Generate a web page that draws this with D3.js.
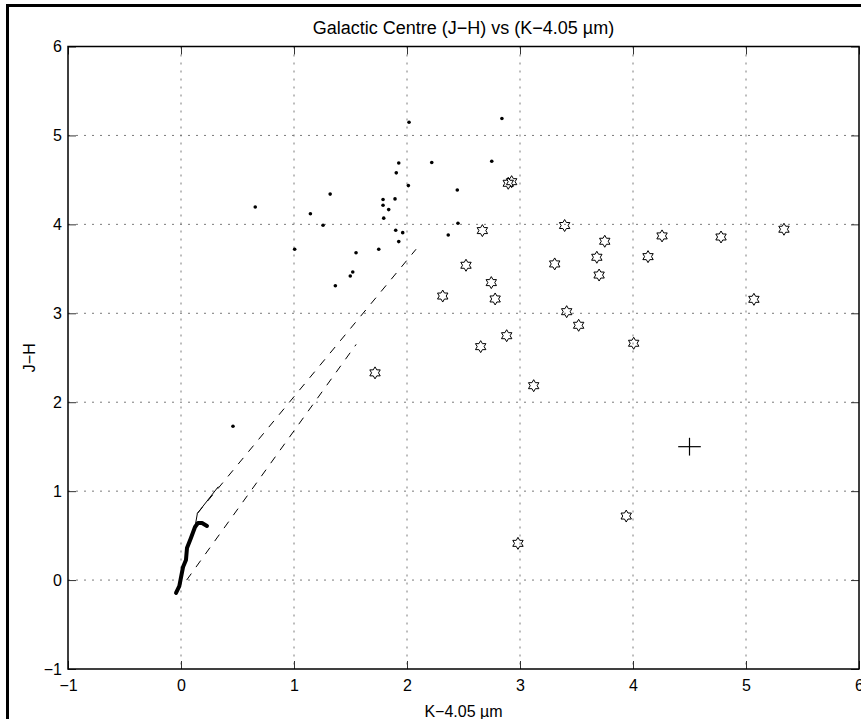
<!DOCTYPE html>
<html>
<head>
<meta charset="utf-8">
<script src="https://cdn.jsdelivr.net/npm/d3@7"></script>
<style>
  body { margin: 0; background: #fff; }
  svg { display: block; }
  text { font-family: "Liberation Sans", Arial, Helvetica, sans-serif; fill: #000; }
</style>
</head>
<body>
<svg id="chart" width="861" height="719"></svg>
<script>
// Axis ticks
const xTicks = [-1, 0, 1, 2, 3, 4, 5, 6];
const yTicks = [-1, 0, 1, 2, 3, 4, 5, 6];

// Field stars shown as dots: K-4.05 colour and J-H colour
const dotK  = [2.018, 1.927, 2.219, 1.905, 2.012, 1.32, 0.657, 1.788, 1.894, 1.788, 1.838, 1.145, 1.794, 1.257, 1.90, 1.962, 1.927, 1.006, 1.75, 1.549, 1.52, 1.498, 1.366, 2.365, 2.445, 2.451, 2.84, 2.75, 0.46];
const dotJH = [5.149, 4.69, 4.695, 4.579, 4.436, 4.34, 4.195, 4.28, 4.286, 4.215, 4.166, 4.12, 4.07, 3.99, 3.934, 3.907, 3.806, 3.72, 3.72, 3.68, 3.465, 3.42, 3.31, 3.88, 4.387, 4.012, 5.19, 4.71, 1.73];

// Sources shown as hexagrams
const starK  = [2.896, 2.926, 2.667, 3.395, 3.75, 3.68, 3.70, 3.307, 4.257, 4.779, 5.336, 4.133, 2.522, 2.746, 2.316, 2.78, 5.07, 3.413, 3.519, 2.882, 2.652, 4.006, 3.121, 2.982, 1.717, 3.94];
const starJH = [4.462, 4.48, 3.93, 3.987, 3.81, 3.63, 3.43, 3.555, 3.87, 3.858, 3.945, 3.637, 3.54, 3.345, 3.194, 3.161, 3.157, 3.018, 2.865, 2.748, 2.625, 2.663, 2.186, 0.413, 2.33, 0.72];

// Intrinsic dwarf sequence (thick) and giant branch (thin)
const dwarfK  = [-0.044, -0.015, 0.018, 0.044, 0.053, 0.088, 0.124, 0.150, 0.186, 0.230];
const dwarfJH = [-0.145, -0.067, 0.147, 0.226, 0.36, 0.473, 0.597, 0.642, 0.642, 0.608];
const giantK  = [0.124, 0.145, 0.33];
const giantJH = [0.597, 0.75, 1.05];

// Reddening bands (dashed)
const redUpperK  = [0.145, 2.08];
const redUpperJH = [0.75, 3.72];
const redLowerK  = [0.05, 1.55];
const redLowerJH = [0.0, 2.65];

// Typical error bar
const errK = 4.5, errJH = 1.5, errSize = 0.1;

const svg = d3.select("#chart");
const W = 861, H = 719;
const x = d3.scaleLinear().domain([-1, 6]).range([68, 859]);
const y = d3.scaleLinear().domain([-1, 6]).range([669, 46.5]);

// Outer figure frame
svg.append("path")
  .attr("d", `M7.5,${H + 5} L7.5,5.5 L${W + 5},5.5`)
  .attr("fill", "none").attr("stroke", "#000").attr("stroke-width", 3);

// Grid
const grid = svg.append("g").attr("stroke", "#7a7a7a").attr("stroke-width", 1)
  .attr("stroke-dasharray", "2,6").attr("fill", "none");
xTicks.filter(v => v > -1 && v < 6).forEach(v => {
  grid.append("line").attr("x1", x(v)).attr("x2", x(v)).attr("y1", y(6)).attr("y2", y(-1));
});
yTicks.filter(v => v > -1 && v < 6).forEach(v => {
  grid.append("line").attr("y1", y(v)).attr("y2", y(v)).attr("x1", x(-1)).attr("x2", x(6));
});

// Axes with inward ticks
const fmt = d => d < 0 ? "\u2212" + Math.abs(d) : String(d);
const gx = svg.append("g").attr("transform", `translate(0,${y(-1)})`)
  .call(d3.axisBottom(x).tickValues(xTicks).tickFormat(fmt).tickSizeInner(-8).tickSizeOuter(0).tickPadding(11));
const gy = svg.append("g").attr("transform", `translate(${x(-1)},0)`)
  .call(d3.axisLeft(y).tickValues(yTicks).tickFormat(fmt).tickSizeInner(-8).tickSizeOuter(0).tickPadding(6));
const gt = svg.append("g").attr("transform", `translate(0,${y(6)})`)
  .call(d3.axisTop(x).tickValues(xTicks).tickFormat("").tickSizeInner(-8).tickSizeOuter(0));
const gr = svg.append("g").attr("transform", `translate(${x(6)},0)`)
  .call(d3.axisRight(y).tickValues(yTicks).tickFormat("").tickSizeInner(-8).tickSizeOuter(0));
[gx, gy, gt, gr].forEach(g => {
  g.select(".domain").remove();
  g.selectAll(".tick line").attr("stroke", "#333");
  g.selectAll("text").attr("font-size", 16).attr("font-family", null);
});

// Axes box
svg.append("rect")
  .attr("x", x(-1)).attr("y", y(6))
  .attr("width", x(6) - x(-1)).attr("height", y(-1) - y(6))
  .attr("fill", "none").attr("stroke", "#000").attr("stroke-width", 1.5);

const line = d3.line();
const pts = (ks, js) => ks.map((k, i) => [x(k), y(js[i])]);

// Reddening bands
svg.append("path").attr("d", line(pts(redUpperK, redUpperJH)))
  .attr("fill", "none").attr("stroke", "#000").attr("stroke-width", 1).attr("stroke-dasharray", "8,8");
svg.append("path").attr("d", line(pts(redLowerK, redLowerJH)))
  .attr("fill", "none").attr("stroke", "#000").attr("stroke-width", 1).attr("stroke-dasharray", "8,8");

// Intrinsic sequences
svg.append("path").attr("d", line(pts(giantK, giantJH)))
  .attr("fill", "none").attr("stroke", "#000").attr("stroke-width", 1);
svg.append("path").attr("d", line(pts(dwarfK, dwarfJH)))
  .attr("fill", "none").attr("stroke", "#000").attr("stroke-width", 4)
  .attr("stroke-linejoin", "round").attr("stroke-linecap", "round");

// Dots
svg.append("g").selectAll("circle").data(dotK).join("circle")
  .attr("cx", (d) => x(d)).attr("cy", (d, i) => y(dotJH[i])).attr("r", 1.8).attr("fill", "#000");

// Hexagram markers
const R = 6, r = R / Math.sqrt(3);
const hexPts = d3.range(12).map(i => {
  const a = -Math.PI / 2 + i * Math.PI / 6;
  const rad = i % 2 === 0 ? R : r;
  return [rad * Math.cos(a), rad * Math.sin(a)];
});
const hexPath = "M" + hexPts.map(p => p[0].toFixed(2) + "," + p[1].toFixed(2)).join("L") + "Z";
svg.append("g").selectAll("path").data(starK).join("path")
  .attr("transform", (d, i) => `translate(${x(d)},${y(starJH[i])})`)
  .attr("d", hexPath).attr("fill", "none").attr("stroke", "#000").attr("stroke-width", 1);

// Error bar cross
svg.append("line").attr("x1", x(errK - errSize)).attr("x2", x(errK + errSize))
  .attr("y1", y(errJH)).attr("y2", y(errJH)).attr("stroke", "#000").attr("stroke-width", 1.2);
svg.append("line").attr("x1", x(errK)).attr("x2", x(errK))
  .attr("y1", y(errJH - errSize)).attr("y2", y(errJH + errSize)).attr("stroke", "#000").attr("stroke-width", 1.2);

// Titles
svg.append("text").attr("x", (x(-1) + x(6)) / 2).attr("y", 34).attr("text-anchor", "middle")
  .attr("font-size", 18).text("Galactic Centre (J\u2212H) vs (K\u22124.05 \u00b5m)");
svg.append("text").attr("x", (x(-1) + x(6)) / 2).attr("y", 717).attr("text-anchor", "middle")
  .attr("font-size", 16).text("K\u22124.05 \u00b5m");
svg.append("text").attr("transform", `translate(35,${(y(-1) + y(6)) / 2}) rotate(-90)`)
  .attr("text-anchor", "middle").attr("font-size", 16).text("J\u2212H");
</script>
</body>
</html>
